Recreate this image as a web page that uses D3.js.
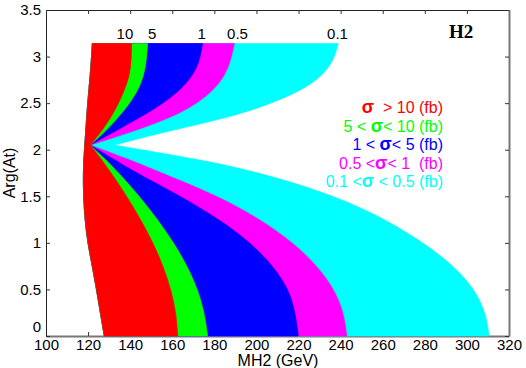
<!DOCTYPE html>
<html><head><meta charset="utf-8">
<script src="https://cdn.jsdelivr.net/npm/d3@7"></script>
<style>
html,body{margin:0;padding:0;background:#fff;}
svg{display:block;font-family:"Liberation Sans",Arial,sans-serif;}
</style></head>
<body><svg id="c" width="526" height="368"></svg>
<script>
// Arg(At) grid (shared by all contours); index 9 is the apex
const argAt   = [0, 0.25, 0.5, 0.75, 1.0, 1.25, 1.5, 1.75, 1.9, 2.05, 2.2, 2.35, 2.5, 2.65, 2.8, 2.95, 3.14];
// left edge of the allowed region (MH2, GeV)
const edgeMin = [127.7, 125.8, 124.0, 122.0, 119.8, 118.5, 117.8, 117.7, 118.0, 118.4, 118.9, 119.3, 119.8, 120.4, 121.0, 121.5, 122.0];
// cross-section contours (MH2 where sigma equals the level)
const sig10  = [162.6, 161.8, 159.4, 155.7, 150.9, 145.0, 138.4, 131.0, 126.2, 121.0, 126.5, 131.0, 134.5, 137.5, 139.7, 140.5, 140.7];
const sig5   = [176.8, 175.3, 172.1, 167.2, 160.7, 153.1, 144.4, 134.6, 128.1, 121.0, 128.5, 134.5, 139.8, 144.0, 146.5, 147.7, 148.3];
const sig1   = [219.9, 218.5, 215.4, 208.0, 197.3, 182.5, 164.0, 143.0, 132.0, 121.0, 133.0, 145.0, 155.8, 164.2, 169.8, 173.0, 174.4];
const sig05  = [242.9, 241.5, 237.0, 229.0, 217.5, 202.0, 182.0, 155.0, 139.0, 121.0, 142.0, 160.0, 172.0, 180.0, 185.0, 187.7, 189.5];
const sig01  = [310.6, 309.0, 303.7, 294.0, 279.5, 261.5, 238.0, 203.0, 172.0, 132.5, 158.0, 188.0, 207.5, 222.5, 231.5, 236.5, 238.9];
const levelColors = ["#00ffff", "#ff00ff", "#0000ff", "#00ff00", "#ff0000"];
const levelData   = [sig01, sig05, sig1, sig5, sig10];
// contour labels on top (MH2 position)
const topLabels = ["10", "5", "1", "0.5", "0.1"];
const topLabelX = [137.5, 150.5, 174, 191, 238.5];
const legendTexts = [["", "σ", "  > 10 (fb)"], ["5 < ", "σ", "< 10 (fb)"], ["1 < ", "σ", "< 5 (fb)"], ["0.5 <", "σ", "< 1  (fb)"], ["0.1 <", "σ", " < 0.5 (fb)"]];
const legendColors = ["#ff0000", "#00ff00", "#0000ff", "#ff00ff", "#00ffff"];
const xTicks = [100, 120, 140, 160, 180, 200, 220, 240, 260, 280, 300, 320];
const yTicks = [0, 0.5, 1, 1.5, 2, 2.5, 3, 3.5];

const svg = d3.select("#c");
const L = 46, R = 509, T = 10, B = 336;
const x = d3.scaleLinear().domain([100, 320]).range([L, R]);
const y = d3.scaleLinear().domain([0, 3.5]).range([B, T]);

// axes frame
const gB = svg.append("g").attr("transform", `translate(0,${B})`)
  .call(d3.axisBottom(x).tickValues(xTicks).tickSizeInner(-4).tickSizeOuter(0).tickPadding(3).tickFormat(d => String(d)));
const gL = svg.append("g").attr("transform", `translate(${L},0)`)
  .call(d3.axisLeft(y).tickValues(yTicks).tickSizeInner(-4).tickSizeOuter(0).tickPadding(5).tickFormat(d => String(d)));
const gT = svg.append("g").attr("transform", `translate(0,${T})`)
  .call(d3.axisTop(x).tickValues(xTicks).tickSizeInner(-4).tickSizeOuter(0).tickFormat(""));
const gR = svg.append("g").attr("transform", `translate(${R},0)`)
  .call(d3.axisRight(y).tickValues(yTicks).tickSizeInner(-4).tickSizeOuter(0).tickFormat(""));
[gB, gL, gT, gR].forEach(g => {
  g.selectAll("text").attr("font-size", 15).attr("fill", "#000").attr("font-family", "Liberation Sans, Arial, sans-serif");
  g.selectAll("line").attr("stroke", "#333");
});
gL.selectAll(".tick").filter(d => d === 0).select("text").attr("dy", "-0.28em");
gB.select(".domain").attr("stroke", "#777").attr("stroke-width", 2);
gR.select(".domain").attr("stroke", "#777").attr("stroke-width", 2);
gL.select(".domain").attr("stroke", "#222");
gT.select(".domain").attr("stroke", "#222");

// filled bands (painter's order: widest first)
const halves = [[0, 10], [9, 17]];
const plot = svg.append("g");
levelData.forEach((arr, li) => {
  halves.forEach(([a, b]) => {
    const idx = d3.range(a, b);
    const area = d3.area()
      .curve(d3.curveBasis)
      .y(i => y(argAt[i]))
      .x0(i => x(edgeMin[i]))
      .x1(i => x(arr[i]));
    plot.append("path").datum(idx).attr("d", area)
      .attr("fill", levelColors[li]).attr("stroke", levelColors[li]).attr("stroke-width", 0.6);
  });
});

// contour labels
svg.append("g").selectAll("text").data(topLabels).join("text")
  .attr("x", (d, i) => x(topLabelX[i])).attr("y", 39)
  .attr("text-anchor", "middle").attr("font-size", 15).text(d => d);

// legend
const lg = svg.append("g");
legendTexts.forEach((parts, i) => {
  const t = lg.append("text").attr("x", 443).attr("y", 113 + i * 18.6)
    .attr("text-anchor", "end").attr("font-size", 16).attr("fill", legendColors[i])
    .attr("xml:space", "preserve").style("white-space", "pre");
  t.append("tspan").text(parts[0]);
  t.append("tspan").attr("font-weight", "bold").attr("font-size", 18).text(parts[1]);
  t.append("tspan").text(parts[2]);
});

// H2 tag
svg.append("text").attr("x", 449).attr("y", 38).attr("font-family", "Liberation Serif, Times New Roman, serif")
  .attr("font-weight", "bold").attr("font-size", 19).text("H2");

// axis titles
svg.append("text").attr("x", 278).attr("y", 366).attr("text-anchor", "middle").attr("font-size", 16).text("MH2 (GeV)");
svg.append("text").attr("transform", "translate(15,173) rotate(-90)").attr("text-anchor", "middle").attr("font-size", 16).text("Arg(At)");
</script></body></html>
